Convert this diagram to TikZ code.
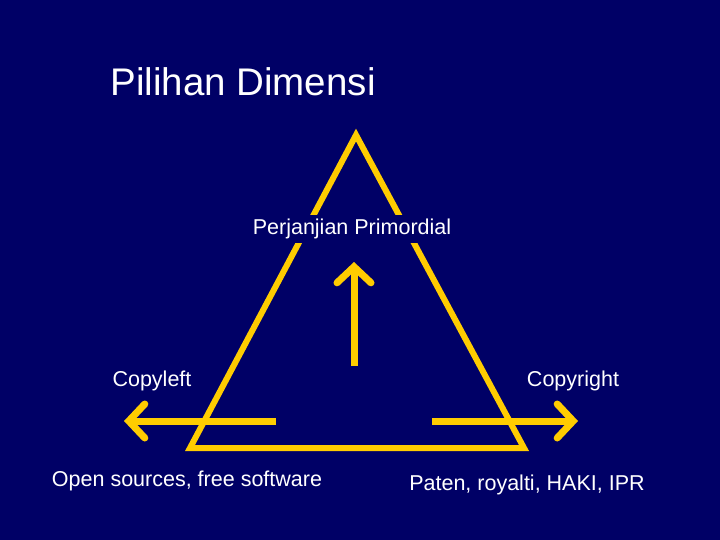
\documentclass[tikz,border=0pt]{standalone}
\usepackage{fontspec}
\setmainfont{Liberation Sans}
\usetikzlibrary{arrows.meta}
\definecolor{navy}{HTML}{000066}
\definecolor{gold}{HTML}{FFCC00}
\tikzset{
  gline/.style={draw=gold, line width=6pt, line join=miter},
  garrow/.style={draw=gold, line width=7pt, -{Straight Barb[length=16pt,width=34pt,line cap=round]}},
  lbl/.style={text=white, inner sep=1pt, font=\fontsize{21.5}{24}\selectfont}
}
\begin{document}
\begin{tikzpicture}[x=1pt,y=-1pt]
        \fill [navy] (0,0) rectangle (720,540);
        \useasboundingbox (0,0) rectangle (720,540);
        \coordinate (apex) at (356,135);
        \coordinate (bl) at (190,448);
        \coordinate (br) at (524,448);
        \draw [gline] (apex) -- (br) -- (bl) -- cycle;
        \node [lbl, fill=navy, inner sep=4pt] (prim) at (352,229) {Perjanjian Primordial};
        \coordinate (upS) at (354,366);
        \coordinate (upE) at (354,262);
        \coordinate (lS) at (276,421);
        \coordinate (lE) at (124,421);
        \coordinate (rS) at (432,421);
        \coordinate (rE) at (578,421);
        \draw [garrow] (upS) -- (upE);
        \draw [garrow] (lS) -- (lE);
        \draw [garrow] (rS) -- (rE);
        \node [text=white, font=\fontsize{38.5}{42}\selectfont] (title) at (243,82) {Pilihan Dimensi};
        \node [lbl] (cl) at (152,381) {Copyleft};
        \node [lbl] (cr) at (573,381) {Copyright};
        \node [lbl] (open) at (187,481) {Open sources, free software};
        \node [lbl] (paten) at (527,485) {Paten, royalti, HAKI, IPR};
\end{tikzpicture}
\end{document}
